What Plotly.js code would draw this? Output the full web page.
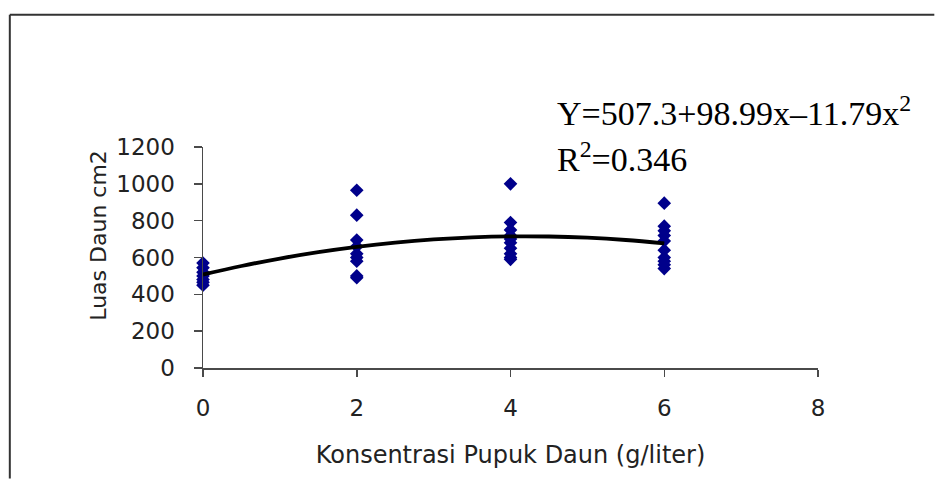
<!DOCTYPE html>
<html>
<head>
<meta charset="utf-8">
<script src="https://cdn.plot.ly/plotly-3.0.1.min.js"></script>
<style>
html,body{margin:0;padding:0;background:#fff;}
#chart{width:935px;height:479px;}
</style>
</head>
<body>
<div id="chart"></div>
<script>
var x0 = [0, 0, 0, 0, 0, 0, 0];
var y0 = [570, 545, 520, 500, 480, 465, 450];
var x2 = [2, 2, 2, 2, 2, 2, 2, 2, 2];
var y2 = [965, 830, 695, 660, 620, 600, 580, 500, 490];
var x4 = [4, 4, 4, 4, 4, 4, 4, 4, 4, 4];
var y4 = [1000, 790, 750, 720, 700, 680, 650, 620, 600, 590];
var x6 = [6, 6, 6, 6, 6, 6, 6, 6, 6, 6];
var y6 = [895, 770, 745, 720, 690, 640, 600, 580, 560, 540];

// Fitted curve values (Y=507.3+98.99x-11.79x^2), listed
var curveX = [0, 0.5, 1, 1.5, 2, 2.5, 3, 3.5, 4, 4.5, 5, 5.5, 6];
var curveY = [507.3, 553.8, 594.5, 629.3, 658.1, 681.1, 698.2, 709.3, 714.6, 714.0, 707.5, 695.1, 676.8];

var xTicks = [0, 2, 4, 6, 8];
var yTicks = [0, 200, 400, 600, 800, 1000, 1200];

var equationText = 'Y=507.3+98.99x\u201311.79x<sup>2</sup>';
var r2Text = 'R<sup>2</sup>=0.346';
var xTitle = 'Konsentrasi Pupuk Daun (g/liter)';
var yTitle = 'Luas Daun cm2';

var allX = x0.concat(x2, x4, x6);
var allY = y0.concat(y2, y4, y6);

var sans = 'DejaVu Sans, Arial, sans-serif';
var serif = 'Liberation Serif, Times New Roman, serif';

var traces = [
  {
    x: allX, y: allY, type: 'scatter', mode: 'markers',
    marker: {symbol: 'diamond', size: 10.5, color: '#00008b'},
    cliponaxis: false, showlegend: false, hoverinfo: 'x+y'
  },
  {
    x: curveX, y: curveY, type: 'scatter', mode: 'lines',
    line: {color: '#000000', width: 3.8, shape: 'spline'},
    cliponaxis: false, showlegend: false, hoverinfo: 'skip'
  }
];

var L = 202.5, R = 818.5, T = 146.7, B = 368.3;
var W = 935, H = 479;
function px2paperX(px){ return (px - L) / (R - L); }
function px2paperY(py){ return (B - py) / (B - T); }

var layout = {
  width: W, height: H,
  margin: {l: L, r: W - R, t: T, b: H - B, pad: 0},
  paper_bgcolor: '#ffffff',
  plot_bgcolor: '#ffffff',
  showlegend: false,
  xaxis: {
    range: [0, 8], tickvals: xTicks, ticktext: xTicks.map(String),
    showline: true, linecolor: '#4a4a4a', linewidth: 1.5,
    ticks: 'outside', ticklen: 7, tickwidth: 1.5, tickcolor: '#4a4a4a',
    showgrid: false, zeroline: false, ticklabelstandoff: 12,
    tickfont: {family: sans, size: 23, color: '#222222'},
    title: {text: xTitle, font: {family: sans, size: 24, color: '#222222'}, standoff: 26}
  },
  yaxis: {
    range: [0, 1200], tickvals: yTicks, ticktext: yTicks.map(String),
    showline: true, linecolor: '#4a4a4a', linewidth: 1.5,
    ticks: 'outside', ticklen: 8, tickwidth: 1.5, tickcolor: '#4a4a4a',
    showgrid: false, zeroline: false, ticklabelstandoff: 14,
    tickfont: {family: sans, size: 23, color: '#222222'}
  },
  annotations: [
    {
      text: yTitle, xref: 'paper', yref: 'paper',
      x: px2paperX(97), y: px2paperY(235), xanchor: 'center', yanchor: 'middle',
      textangle: -90, showarrow: false,
      font: {family: sans, size: 22, color: '#222222'}
    },
    {
      text: equationText, xref: 'paper', yref: 'paper',
      x: px2paperX(555), y: px2paperY(111), xanchor: 'left', yanchor: 'middle',
      showarrow: false, font: {family: serif, size: 34, color: '#000000'}
    },
    {
      text: r2Text, xref: 'paper', yref: 'paper',
      x: px2paperX(555), y: px2paperY(157), xanchor: 'left', yanchor: 'middle',
      showarrow: false, font: {family: serif, size: 34, color: '#000000'}
    }
  ],
  shapes: [
    {type: 'line', xref: 'paper', yref: 'paper',
     x0: px2paperX(9), x1: px2paperX(935), y0: px2paperY(14), y1: px2paperY(14),
     line: {color: '#333333', width: 2}},
    {type: 'line', xref: 'paper', yref: 'paper',
     x0: px2paperX(9), x1: px2paperX(9), y0: px2paperY(14), y1: px2paperY(479),
     line: {color: '#333333', width: 2}}
  ]
};

Plotly.newPlot('chart', traces, layout, {staticPlot: true, displayModeBar: false});
</script>
</body>
</html>
